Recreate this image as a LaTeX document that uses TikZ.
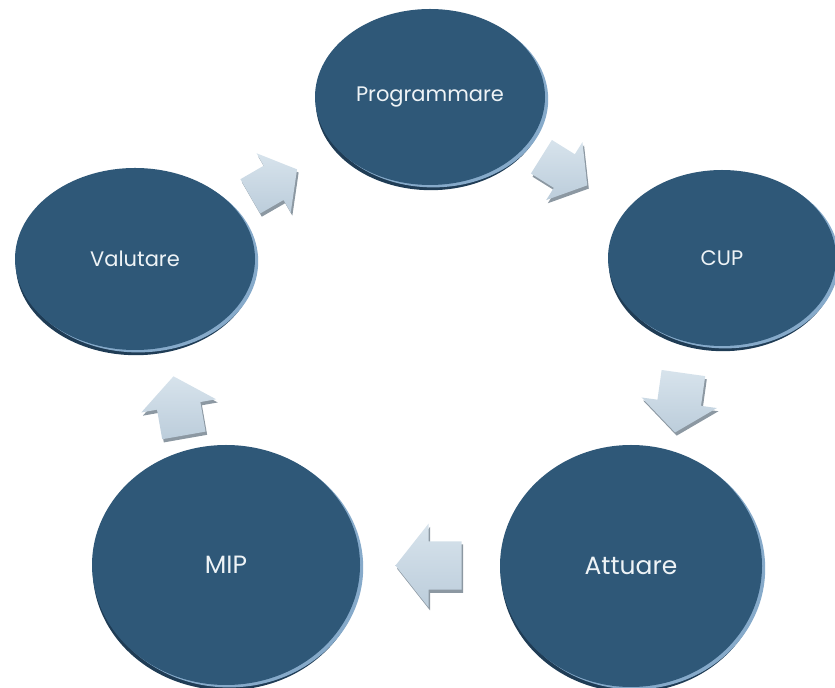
\documentclass[tikz,border=0pt]{standalone}
\usepackage{fontspec}
\setmainfont{Poppins}
\usetikzlibrary{shapes.geometric,calc}
\definecolor{bubblefill}{HTML}{2F5878}
\definecolor{bubbletext}{HTML}{EEF3F6}
\definecolor{rimdark}{HTML}{1F3C55}
\definecolor{rimlight}{HTML}{86AACA}
\definecolor{arrowtop}{HTML}{D7E3EC}
\definecolor{arrowbottom}{HTML}{BCCDDB}
\definecolor{arrowshadow}{HTML}{8C98A2}
\tikzset{
  bubble/.style={
    ellipse,
    inner sep=0pt,
    fill=bubblefill,
    text=bubbletext,
    preaction={fill=rimdark, transform canvas={shift={(0.4pt,-2.6pt)}}},
    preaction={fill=rimlight, transform canvas={shift={(1.6pt,-1.2pt)}}},
  },
  block arrow/.style={
    top color=arrowtop,
    bottom color=arrowbottom,
    preaction={fill=arrowshadow, transform canvas={shift={(0.8pt,-1.6pt)}}},
  }
}

\begin{document}
\begin{tikzpicture}[x=0.5pt,y=-0.5pt]
\useasboundingbox (0,0) rectangle (835,688);
% the five steps of the cycle
\node[bubble, minimum width=115pt, minimum height=88pt, font=\fontsize{10.5}{12}\selectfont] (prog) at (430,97) {Programmare};
\node[bubble, minimum width=114pt, minimum height=88pt, font=\fontsize{10.5}{12}\selectfont] (cup) at (722,258) {CUP};
\node[bubble, minimum width=131pt, minimum height=121pt, font=\fontsize{12.5}{14}\selectfont] (att) at (631,566) {Attuare};
\node[bubble, minimum width=134pt, minimum height=120pt, font=\fontsize{12.5}{14}\selectfont] (mip) at (226,565) {MIP};
\node[bubble, minimum width=120pt, minimum height=91pt, font=\fontsize{10.5}{12}\selectfont] (val) at (135,259) {Valutare};
% block arrows between the steps
\foreach \from/\to/\pos/\ang/\len in {val/prog/0.47/30/0.9, prog/cup/0.46/-32/0.9, cup/att/0.47/-98/1, att/mip/0.5/180/1.1, mip/val/0.52/100/1} {
  \coordinate (m) at ($(\from)!\pos!(\to)$);
  \begin{scope}[shift={(m)}, rotate=\ang, scale=\len]
    \path[block arrow] (-30,-22) -- (0,-22) -- (0,-38) -- (30,0) -- (0,38) -- (0,22) -- (-30,22) -- cycle;
  \end{scope}
}
\end{tikzpicture}
\end{document}
